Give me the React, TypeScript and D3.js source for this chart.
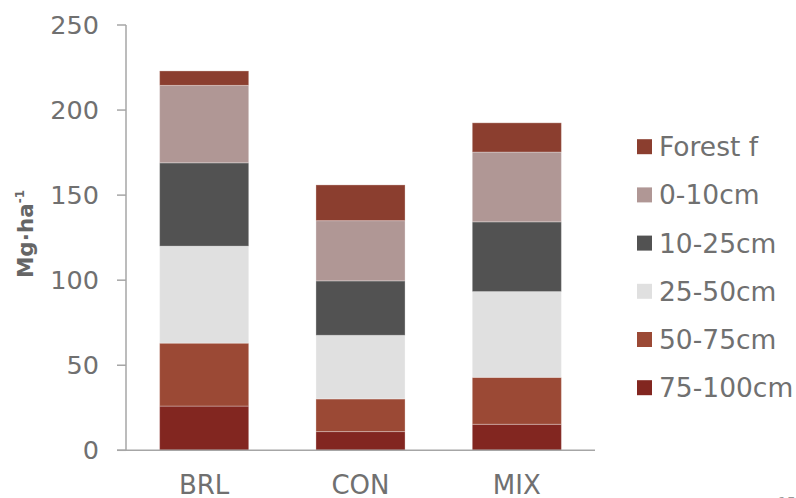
import React from "react";
import * as d3 from "d3";

// Stand types and soil / forest floor layers (Mg·ha-1)
const categories = ["BRL", "CON", "MIX"];
const layers = ["75-100cm", "50-75cm", "25-50cm", "10-25cm", "0-10cm", "Forest f"];
const layer75_100 = [26, 11, 15.3];
const layer50_75 = [37, 19.2, 27.6];
const layer25_50 = [57, 37.4, 50.4];
const layer10_25 = [49, 32, 41];
const layer0_10 = [45.5, 35.4, 41];
const forestFloor = [8.5, 21, 17.2];
const yTicks = [0, 50, 100, 150, 200, 250];

const layerColors: Record<string, string> = {
  "75-100cm": "#822620",
  "50-75cm": "#9B4935",
  "25-50cm": "#E0E0E0",
  "10-25cm": "#525252",
  "0-10cm": "#B09795",
  "Forest f": "#8B3E2F",
};

const seriesValues = [layer75_100, layer50_75, layer25_50, layer10_25, layer0_10, forestFloor];

const W = 796;
const H = 498;
const left = 126;
const right = 595;
const top = 25;
const bottom = 450.3;
const font = "'DejaVu Sans', Verdana, sans-serif";
const textColor = "#707070";
const axisColor = "#A6A6A6";

export default function App() {
  const rows = categories.map((c, i) => {
    const r: Record<string, number | string> = { cat: c };
    layers.forEach((l, j) => (r[l] = seriesValues[j][i]));
    return r;
  });
  const stacked = d3.stack<any>().keys(layers)(rows);

  const x = d3.scaleBand<string>().domain(categories).range([left, right]).paddingInner(0.43).paddingOuter(0.215);
  const y = d3.scaleLinear().domain([0, 250]).range([bottom, top]);

  const legendOrder = [...layers].reverse();

  return (
    <svg
      width={W}
      height={H}
      style={{ position: "absolute", left: 0, top: 0, background: "#fff" }}
      fontFamily={font}
    >
      {/* stacked bars */}
      {stacked.map((s) => (
        <g key={s.key} fill={layerColors[s.key]}>
          {s.map((d, i) => (
            <rect
              key={i}
              x={x(categories[i])!}
              y={y(d[1])}
              width={x.bandwidth()}
              height={y(d[0]) - y(d[1])}
              stroke="rgba(255,255,255,0.3)"
              strokeWidth={1}
            />
          ))}
        </g>
      ))}

      {/* y axis */}
      <line x1={left} x2={left} y1={y(250)} y2={bottom} stroke={axisColor} strokeWidth={1.5} />
      {yTicks.map((t) => (
        <g key={t}>
          <line x1={117} x2={left} y1={y(t)} y2={y(t)} stroke={axisColor} strokeWidth={1.5} />
          <text x={99} y={y(t)} dy="0.36em" textAnchor="end" fontSize={25.5} fill={textColor}>
            {t}
          </text>
        </g>
      ))}
      {/* x axis */}
      <line x1={117} x2={right} y1={bottom} y2={bottom} stroke={axisColor} strokeWidth={1.5} />
      {categories.map((c) => (
        <text key={c} x={x(c)! + x.bandwidth() / 2} y={494} textAnchor="middle" fontSize={26} fill={textColor}>
          {c}
        </text>
      ))}

      {/* y axis title */}
      <text
        transform="translate(33,234) rotate(-90)"
        textAnchor="middle"
        fontSize={21.5}
        fontWeight="bold"
        fill="#666666"
      >
        Mg·ha<tspan fontSize={12} dy={-9}>-1</tspan>
      </text>

      {/* legend */}
      {legendOrder.map((l, i) => {
        const cy = 146.7 + i * 48.2;
        return (
          <g key={l}>
            <rect x={637} y={cy - 7.5} width={15} height={15} fill={layerColors[l]} />
            <text x={659} y={cy} dy="0.36em" fontSize={26.5} fill={textColor}>
              {l}
            </text>
          </g>
        );
      })}

      {/* page number */}
      <text x={778} y={507} fontSize={14} fill="#9A9A9A">15</text>
    </svg>
  );
}
